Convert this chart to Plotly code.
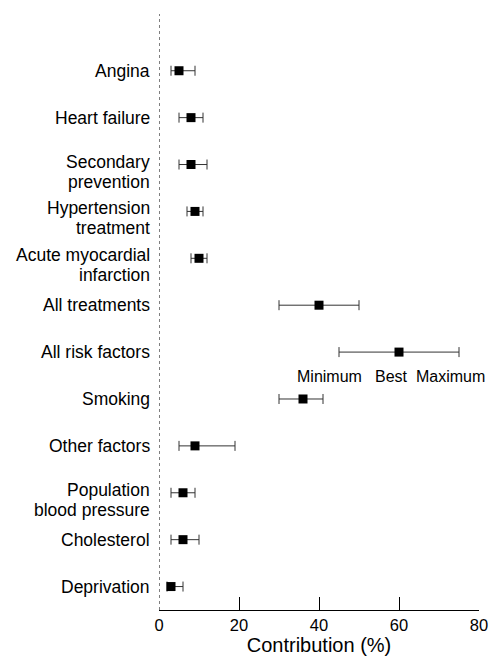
import plotly.graph_objects as go

categories = [
    "Angina", "Heart failure", "Secondary<br>prevention", "Hypertension<br>treatment",
    "Acute myocardial<br>infarction", "All treatments", "All risk factors", "Smoking",
    "Other factors", "Population<br>blood pressure", "Cholesterol", "Deprivation",
]
best = [5, 8, 8, 9, 10, 40, 60, 36, 9, 6, 6, 3]
minimum = [3, 5, 5, 7, 8, 30, 45, 30, 5, 3, 3, 2]
maximum = [9, 11, 12, 11, 12, 50, 75, 41, 19, 9, 10, 6]
x_ticks = [0, 20, 40, 60, 80]

FONT = "Liberation Sans, Arial, sans-serif"
LABEL_SIZE = 17.5

fig = go.Figure()
fig.add_trace(go.Scatter(
    x=best, y=categories, mode="markers",
    marker=dict(symbol="square", size=9, color="black"),
    error_x=dict(type="data", symmetric=False,
                 array=[mx - b for mx, b in zip(maximum, best)],
                 arrayminus=[b - mn for mn, b in zip(minimum, best)],
                 color="#333333", thickness=1, width=5),
    showlegend=False, cliponaxis=False, hoverinfo="skip",
))

fig.add_shape(type="line", xref="x", yref="paper", x0=0, x1=0, y0=0, y1=1,
              line=dict(color="#555555", width=1.5, dash="dot"))

# category labels as annotations (right aligned, tight line spacing)
for cat in categories:
    lines = cat.split("<br>")
    if len(lines) == 1:
        shifts = [0]
    else:
        shifts = [3, -17]
    for ln, sh in zip(lines, shifts):
        fig.add_annotation(x=0, y=cat, xref="paper", yref="y", text=ln, showarrow=False,
                           xanchor="right", yanchor="middle", xshift=-7, yshift=sh,
                           font=dict(family=FONT, size=LABEL_SIZE, color="black"))

for txt, xpos in [("Minimum", 42.5), ("Best", 58), ("Maximum", 72.8)]:
    fig.add_annotation(x=xpos, y=6.52, xref="x", yref="y", text=txt, showarrow=False,
                       font=dict(family=FONT, size=16, color="black"))

fig.update_layout(
    width=489, height=656,
    margin=dict(l=159, r=10, t=14, b=46, autoexpand=False),
    plot_bgcolor="white", paper_bgcolor="white",
    font=dict(family=FONT, size=16, color="black"),
    xaxis=dict(range=[0, 80], tickvals=x_ticks, ticks="inside", ticklen=13,
               tickcolor="black", showline=True, linecolor="black", linewidth=1,
               showgrid=False, zeroline=False, automargin=False,
               title=dict(text="Contribution (%)", font=dict(size=20), standoff=2),
               tickfont=dict(size=16.5)),
    yaxis=dict(type="category", categoryorder="array", categoryarray=categories,
               range=[11.5, -1.21], showgrid=False, zeroline=False, showline=False,
               showticklabels=False, ticks="", automargin=False),
)

fig.write_html("out.html", config={"displayModeBar": False},
               post_script="document.body.style.margin='0';")
